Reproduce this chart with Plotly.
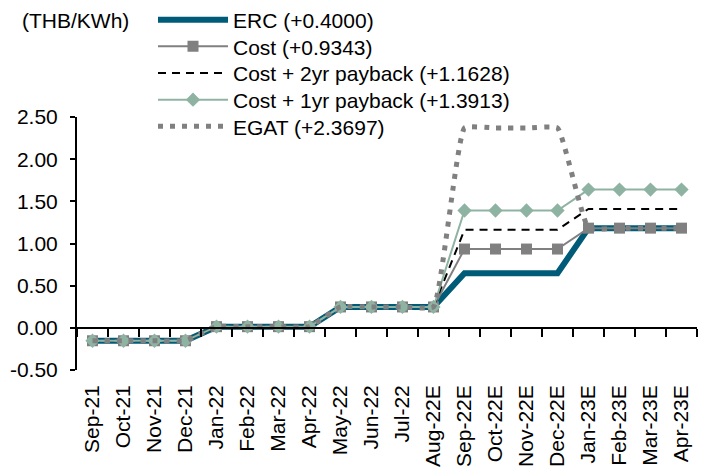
import plotly.graph_objects as go

# Monthly Ft tariff path (THB/kWh) under each scenario
months = ["Sep-21", "Oct-21", "Nov-21", "Dec-21", "Jan-22", "Feb-22", "Mar-22", "Apr-22",
          "May-22", "Jun-22", "Jul-22", "Aug-22E", "Sep-22E", "Oct-22E", "Nov-22E", "Dec-22E",
          "Jan-23E", "Feb-23E", "Mar-23E", "Apr-23E"]

erc = [-0.1532, -0.1532, -0.1532, -0.1532, 0.0139, 0.0139, 0.0139, 0.0139,
       0.2477, 0.2477, 0.2477, 0.2477, 0.6477, 0.6477, 0.6477, 0.6477,
       1.1820, 1.1820, 1.1820, 1.1820]
cost = [-0.1532, -0.1532, -0.1532, -0.1532, 0.0139, 0.0139, 0.0139, 0.0139,
        0.2477, 0.2477, 0.2477, 0.2477, 0.9343, 0.9343, 0.9343, 0.9343,
        1.1820, 1.1820, 1.1820, 1.1820]
cost_2yr = [-0.1532, -0.1532, -0.1532, -0.1532, 0.0139, 0.0139, 0.0139, 0.0139,
            0.2477, 0.2477, 0.2477, 0.2477, 1.1628, 1.1628, 1.1628, 1.1628,
            1.4105, 1.4105, 1.4105, 1.4105]
cost_1yr = [-0.1532, -0.1532, -0.1532, -0.1532, 0.0139, 0.0139, 0.0139, 0.0139,
            0.2477, 0.2477, 0.2477, 0.2477, 1.3913, 1.3913, 1.3913, 1.3913,
            1.6390, 1.6390, 1.6390, 1.6390]
egat = [-0.1532, -0.1532, -0.1532, -0.1532, 0.0139, 0.0139, 0.0139, 0.0139,
        0.2477, 0.2477, 0.2477, 0.2477, 2.3697, 2.3697, 2.3697, 2.3697,
        1.1820, 1.1820, 1.1820, 1.1820]

series_names = ["ERC (+0.4000)", "Cost (+0.9343)", "Cost + 2yr payback (+1.1628)",
                "Cost + 1yr payback (+1.3913)", "EGAT (+2.3697)"]

y_ticks = [-0.5, 0.0, 0.5, 1.0, 1.5, 2.0, 2.5]
y_range = [-0.5, 2.5]

FONT = "Liberation Sans, Arial, sans-serif"
FS = 21

W, H = 708, 468
ML, MR, MT, MB = 77, 11, 117, 98
PW, PH = W - ML - MR, H - MT - MB

fig = go.Figure()

legend_ids = ["legend", "legend2", "legend3", "legend4", "legend5"]

fig.add_trace(go.Scatter(
    x=months, y=erc, name=series_names[0], mode="lines", legend=legend_ids[0],
    line=dict(color="#005b78", width=6)))
fig.add_trace(go.Scatter(
    x=months, y=cost, name=series_names[1], mode="lines+markers", legend=legend_ids[1],
    line=dict(color="#808080", width=2),
    marker=dict(symbol="square", size=11, color="#808080")))
fig.add_trace(go.Scatter(
    x=months, y=cost_2yr, name=series_names[2], mode="lines", legend=legend_ids[2],
    line=dict(color="#000000", width=2, dash="8px,6px")))
fig.add_trace(go.Scatter(
    x=months, y=cost_1yr, name=series_names[3], mode="lines+markers", legend=legend_ids[3],
    line=dict(color="#8fb3a3", width=2),
    marker=dict(symbol="diamond", size=11, color="#8fb3a3")))
fig.add_trace(go.Scatter(
    x=months, y=egat, name=series_names[4], mode="lines", legend=legend_ids[4],
    line=dict(color="#808080", width=5, dash="5px,7px", shape="spline", smoothing=0.35)))

# carrier for the category axis that sits on the zero line
fig.add_trace(go.Scatter(
    x=months, y=erc, xaxis="x2", mode="lines", opacity=0,
    line=dict(width=0), showlegend=False, hoverinfo="skip"))

zero_pos = (0 - y_range[0]) / (y_range[1] - y_range[0])

# one legend box per series so the rows can sit on a tight pitch
legend_rows = [20, 46.7, 73.3, 100, 126.7]
legends = {}
for lid, yc in zip(legend_ids, legend_rows):
    legends[lid] = dict(
        xref="container", yref="container", x=153 / W, y=1 - yc / H,
        xanchor="left", yanchor="middle", bgcolor="rgba(0,0,0,0)",
        itemwidth=70, font=dict(family=FONT, size=FS))

fig.update_layout(
    width=W, height=H,
    margin=dict(l=ML, r=MR, t=MT, b=MB, autoexpand=False),
    paper_bgcolor="white", plot_bgcolor="white",
    font=dict(family=FONT, size=FS, color="#000000"),
    showlegend=True,
    xaxis=dict(
        type="category", categoryorder="array", categoryarray=months,
        range=[-0.5, len(months) - 0.5], showline=False, ticks="",
        tickangle=-90, ticklabelstandoff=10, showgrid=False, zeroline=False,
        tickfont=dict(family=FONT, size=FS)),
    xaxis2=dict(
        type="category", categoryorder="array", categoryarray=months,
        overlaying="x", anchor="free", position=zero_pos, side="bottom",
        range=[-0.5, len(months) - 0.5], showline=True, linecolor="#000000",
        linewidth=2, ticks="outside", ticklen=8, tickwidth=2, tickcolor="#000000",
        tickson="boundaries", showticklabels=False, showgrid=False, zeroline=False),
    yaxis=dict(
        range=y_range, tickvals=y_ticks, ticktext=[f"{v:.2f}" for v in y_ticks],
        showline=True, linecolor="#000000", linewidth=2, ticks="outside", ticklen=5,
        tickwidth=2, tickcolor="#000000", showgrid=False, zeroline=False,
        ticklabelstandoff=8, tickfont=dict(family=FONT, size=FS)),
    annotations=[dict(
        text="(THB/KWh)", xref="paper", yref="paper",
        x=(20 - ML) / PW, y=(H - MB - 20) / PH, xanchor="left", yanchor="middle",
        showarrow=False, font=dict(family=FONT, size=FS))],
    **legends,
)

fig.write_html("out.html")
